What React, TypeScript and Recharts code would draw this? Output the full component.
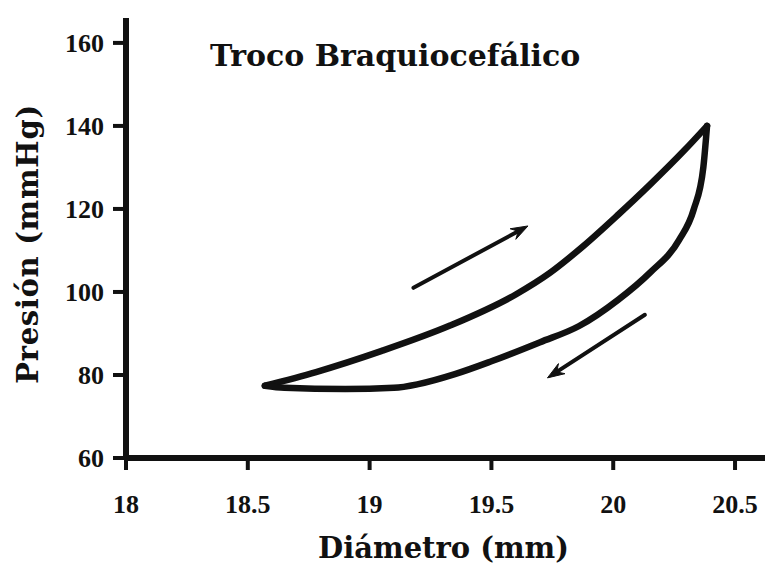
import React from 'react';
import { LineChart, Line, XAxis, YAxis, ReferenceLine, Label } from 'recharts';

// Tick values
const xTicks = [18, 18.5, 19, 19.5, 20, 20.5];
const yTicks = [60, 80, 100, 120, 140, 160];

// Loading branch (diameter mm, pressure mmHg), increasing
const loadDiam = [18.57, 18.78, 19.05, 19.33, 19.6, 19.74, 19.88, 20.02, 20.15, 20.29, 20.385];
const loadPres = [77.4, 80.7, 85.8, 91.9, 99.4, 104.6, 111.2, 118.6, 125.8, 134.0, 140.0];

// Unloading branch (ordered by diameter)
const unloadDiam = [18.57, 18.65, 18.9, 19.1, 19.2, 19.35, 19.5, 19.7, 19.86, 20.02, 20.15, 20.27, 20.33, 20.37, 20.385];
const unloadPres = [77.4, 76.9, 76.6, 76.9, 77.8, 80.2, 83.3, 87.9, 91.8, 98.1, 104.6, 112.5, 119.8, 130.1, 140.0];

// Direction arrows: [tailD, tailP, tipD, tipP]
const arrowUp = [19.18, 101.0, 19.65, 115.9];
const arrowDown = [20.13, 94.5, 19.73, 79.3];

const title = 'Troco Braquiocefálico';
const xLabel = 'Diámetro (mm)';
const yLabel = 'Presión (mmHg)';

const loadData = loadDiam.map((d, i) => ({ d, p: loadPres[i] }));
const unloadData = unloadDiam.map((d, i) => ({ d, p: unloadPres[i] }));

const INK = '#111';
const textFont = '"DejaVu Serif", serif';
const tickFont = '"Liberation Serif", serif';

const ArrowShape = (props: any) => {
  const { x1, y1, x2, y2 } = props;
  const ang = Math.atan2(y2 - y1, x2 - x1);
  const L = 17;
  const W = 6;
  const c = Math.cos(ang);
  const s = Math.sin(ang);
  const bx = x2 - L * c;
  const by = y2 - L * s;
  const mx = x2 - L * 0.65 * c;
  const my = y2 - L * 0.65 * s;
  const lx = bx - W * s;
  const ly = by + W * c;
  const rx = bx + W * s;
  const ry = by - W * c;
  return (
    <g>
      <line x1={x1} y1={y1} x2={mx} y2={my} stroke={INK} strokeWidth={4} strokeLinecap="round" />
      <path d={`M${x2},${y2} L${lx},${ly} L${mx},${my} L${rx},${ry} Z`} fill={INK} stroke={INK} strokeWidth={1} />
    </g>
  );
};

const YLabelContent = (props: any) => {
  const vb = props.viewBox || { x: 0, y: 18, width: 126, height: 440 };
  const cx = vb.x + 28;
  const cy = vb.y + vb.height / 2 + 6;
  return (
    <text
      x={cx}
      y={cy}
      transform={`rotate(-90 ${cx} ${cy})`}
      textAnchor="middle"
      dominantBaseline="central"
      fontFamily={textFont}
      fontWeight="bold"
      fontSize={29}
      fill={INK}
      letterSpacing={0.7}
    >
      {yLabel}
    </text>
  );
};

const XLabelContent = (props: any) => {
  const vb = props.viewBox || { x: 126, y: 458, width: 639, height: 109 };
  return (
    <text
      x={vb.x + vb.width / 2 - 2}
      y={558}
      textAnchor="middle"
      fontFamily={textFont}
      fontWeight="bold"
      fontSize={29}
      fill={INK}
    >
      {xLabel}
    </text>
  );
};

export default function App() {
  return (
    <div style={{ position: 'absolute', left: 0, top: 0, width: 766, height: 567, background: '#fff' }}>
      <LineChart width={766} height={567} margin={{ top: 18, right: 1, bottom: 0, left: 0 }}>
        <XAxis
          dataKey="d"
          type="number"
          domain={[18, 20.623]}
          ticks={xTicks}
          interval={0}
          allowDataOverflow
          height={109}
          axisLine={{ stroke: INK, strokeWidth: 6 }}
          tickLine={{ stroke: INK, strokeWidth: 4 }}
          tickSize={12}
          tickMargin={25}
          tick={{ fill: INK, fontFamily: tickFont, fontWeight: 'bold', fontSize: 26 }}
        >
          <Label content={XLabelContent} position="bottom" />
        </XAxis>
        <YAxis
          type="number"
          domain={[60, 166]}
          ticks={yTicks}
          interval={0}
          allowDataOverflow
          width={126}
          axisLine={{ stroke: INK, strokeWidth: 6 }}
          tickLine={{ stroke: INK, strokeWidth: 4 }}
          tickSize={13}
          tickMargin={9}
          tick={{ fill: INK, fontFamily: tickFont, fontWeight: 'bold', fontSize: 26 }}
        >
          <Label content={YLabelContent} position="left" />
        </YAxis>
        <Line
          data={loadData}
          dataKey="p"
          type="monotone"
          stroke={INK}
          strokeWidth={6.5}
          strokeLinecap="round"
          strokeLinejoin="round"
          dot={false}
          activeDot={false}
          isAnimationActive={false}
        />
        <Line
          data={unloadData}
          dataKey="p"
          type="monotone"
          stroke={INK}
          strokeWidth={6.5}
          strokeLinecap="round"
          strokeLinejoin="round"
          dot={false}
          activeDot={false}
          isAnimationActive={false}
        />
        <ReferenceLine
          segment={[{ x: arrowUp[0], y: arrowUp[1] }, { x: arrowUp[2], y: arrowUp[3] }]}
          shape={ArrowShape}
        />
        <ReferenceLine
          segment={[{ x: arrowDown[0], y: arrowDown[1] }, { x: arrowDown[2], y: arrowDown[3] }]}
          shape={ArrowShape}
        />
      </LineChart>
      <svg width={766} height={567} style={{ position: 'absolute', left: 0, top: 0, pointerEvents: 'none' }}>
        <text x={210} y={66} fontFamily={textFont} fontWeight="bold" fontSize={30} fill={INK}>
          {title}
        </text>
      </svg>
    </div>
  );
}
